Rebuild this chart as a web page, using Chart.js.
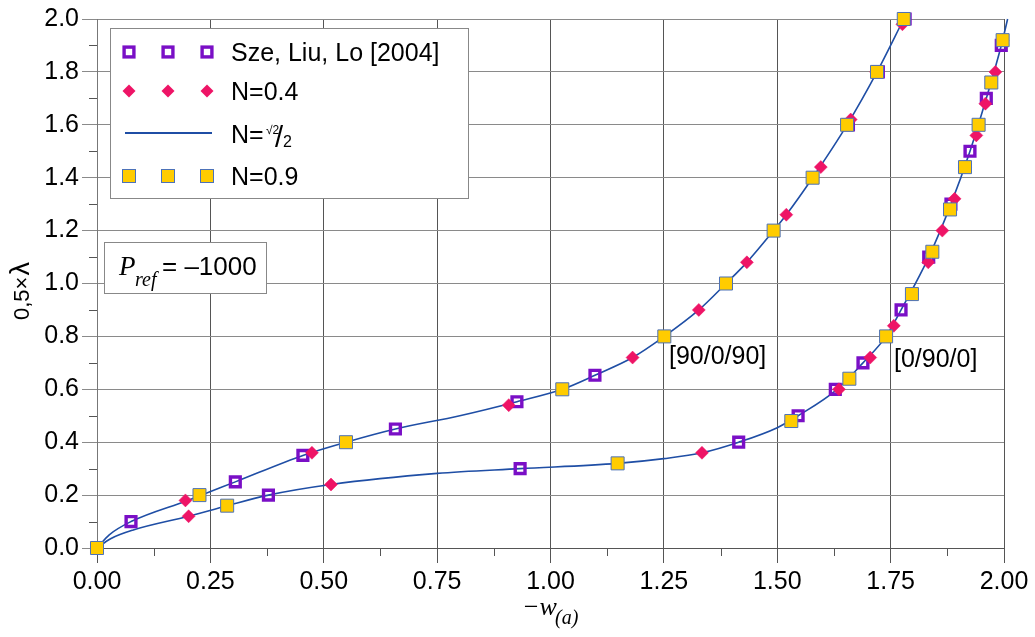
<!DOCTYPE html>
<html>
<head>
<meta charset="utf-8">
<script src="https://cdn.jsdelivr.net/npm/chart.js@4.4.0/dist/chart.umd.min.js"></script>
<style>
  html, body { margin: 0; padding: 0; background: #fff; }
  #wrap { width: 1035px; height: 637px; position: relative; }
</style>
</head>
<body>
<div id="wrap"><canvas id="chart" width="1035" height="637"></canvas></div>
<script>
// 축 눈금 라벨
const xTickLabels = ['0.00', '0.25', '0.50', '0.75', '1.00', '1.25', '1.50', '1.75', '2.00'];
const yTickLabels = ['0.0', '0.2', '0.4', '0.6', '0.8', '1.0', '1.2', '1.4', '1.6', '1.8', '2.0'];

// Sze, Liu, Lo [2004] - [90/0/90]
const szeA_w = [0.075, 0.305, 0.454, 0.658, 0.926, 1.098, 1.657, 1.723, 1.782];
const szeA_l = [0.10, 0.25, 0.35, 0.45, 0.553, 0.653, 1.60, 1.80, 2.00];
// Sze, Liu, Lo [2004] - [0/90/0]
const szeB_w = [0.378, 0.933, 1.415, 1.546, 1.628, 1.689, 1.773, 1.834, 1.883, 1.925, 1.961, 1.994];
const szeB_l = [0.20, 0.30, 0.40, 0.50, 0.60, 0.70, 0.90, 1.10, 1.30, 1.50, 1.70, 1.90];

// N=0.4
const n04A_w = [0.195, 0.474, 0.908, 1.181, 1.327, 1.433, 1.520, 1.596, 1.662, 1.718, 1.776];
const n04A_l = [0.18, 0.36, 0.54, 0.72, 0.90, 1.08, 1.26, 1.44, 1.62, 1.80, 1.98];
const n04B_w = [0.202, 0.516, 1.334, 1.530, 1.636, 1.705, 1.757, 1.797, 1.833, 1.864, 1.891, 1.914, 1.939, 1.959, 1.981, 1.997];
const n04B_l = [0.12, 0.24, 0.36, 0.48, 0.60, 0.72, 0.84, 0.96, 1.08, 1.20, 1.32, 1.44, 1.56, 1.68, 1.80, 1.92];

// N=0.9
const n09A_w = [0.0, 0.226, 0.549, 1.026, 1.251, 1.387, 1.492, 1.578, 1.654, 1.720, 1.779];
const n09A_l = [0.0, 0.20, 0.40, 0.60, 0.80, 1.00, 1.20, 1.40, 1.60, 1.80, 2.00];
const n09B_w = [0.287, 1.148, 1.531, 1.659, 1.740, 1.797, 1.842, 1.881, 1.914, 1.944, 1.972, 1.997];
const n09B_l = [0.16, 0.32, 0.48, 0.64, 0.80, 0.96, 1.12, 1.28, 1.44, 1.60, 1.76, 1.92];

// N=√2/2 곡선
const lineA_w = [0, 0.027, 0.075, 0.20, 0.305, 0.454, 0.549, 0.658, 0.80, 0.926, 1.026, 1.098, 1.181, 1.251, 1.327, 1.387, 1.433, 1.492, 1.52, 1.578, 1.654, 1.72, 1.779];
const lineA_l = [0, 0.05, 0.10, 0.18, 0.25, 0.35, 0.40, 0.45, 0.50, 0.553, 0.60, 0.653, 0.72, 0.80, 0.90, 1.00, 1.08, 1.20, 1.26, 1.40, 1.60, 1.80, 2.00];
const lineB_w = [0, 0.03, 0.08, 0.202, 0.287, 0.378, 0.516, 0.75, 0.933, 1.148, 1.25, 1.334, 1.415, 1.50, 1.546, 1.632, 1.689, 1.74, 1.773, 1.834, 1.883, 1.925, 1.961, 1.994, 2.008];
const lineB_l = [0, 0.035, 0.068, 0.12, 0.16, 0.20, 0.24, 0.282, 0.30, 0.32, 0.338, 0.36, 0.40, 0.455, 0.50, 0.60, 0.70, 0.80, 0.90, 1.10, 1.30, 1.50, 1.70, 1.90, 2.00];

const toPoints = (ws, ls) => ws.map((w, i) => ({ x: w, y: ls[i] }));

const PURPLE = '#7a0fc6';
const PINK = '#ee1466';
const YELLOW = '#ffcc00';
const YELLOW_EDGE = '#4d72b8';
const LINE = '#1f4ea5';
const SANS = '"Liberation Sans", Arial, sans-serif';
const SERIF = '"Liberation Serif", "Times New Roman", serif';

// 보조 눈금, 범례, 주석 그리기
const decorPlugin = {
    id: 'decor',
    afterDraw(chart) {
        const ctx = chart.ctx;
        const xs = chart.scales.x;
        const ys = chart.scales.y;
        const area = chart.chartArea;
        ctx.save();

        // 보조 눈금
        ctx.strokeStyle = '#555';
        ctx.lineWidth = 1;
        ctx.beginPath();
        for (let v = 0.1; v < 2; v += 0.2) {
            const py = Math.round(ys.getPixelForValue(v)) + 0.5;
            ctx.moveTo(area.left - 8, py);
            ctx.lineTo(area.left, py);
        }
        for (let v = 0.125; v < 2; v += 0.25) {
            const px = Math.round(xs.getPixelForValue(v)) + 0.5;
            ctx.moveTo(px, area.bottom);
            ctx.lineTo(px, area.bottom + 8);
        }
        ctx.stroke();

        // 범례 상자
        ctx.fillStyle = '#fff';
        ctx.fillRect(110, 28, 358, 170);
        ctx.strokeStyle = '#888';
        ctx.strokeRect(110.5, 28.5, 358, 170);

        const mx = [129, 168, 207];
        mx.forEach(x => drawSze(ctx, x, 52));
        mx.forEach(x => drawDiamond(ctx, x, 91));
        mx.forEach(x => drawYellow(ctx, x, 176));
        ctx.strokeStyle = LINE;
        ctx.lineWidth = 1.8;
        ctx.beginPath();
        ctx.moveTo(125, 133);
        ctx.lineTo(212, 133);
        ctx.stroke();

        ctx.fillStyle = '#000';
        ctx.textBaseline = 'alphabetic';
        ctx.textAlign = 'left';
        ctx.font = '25px ' + SANS;
        ctx.fillText('Sze, Liu, Lo [2004]', 231, 61);
        ctx.fillText('N=0.4', 231, 100);
        ctx.fillText('N=', 231, 143);
        ctx.fillText('N=0.9', 231, 185);
        ctx.font = '12px ' + SANS;
        ctx.fillText('\u221A2', 266, 134);
        ctx.font = '29px ' + SANS;
        ctx.fillText('/', 275, 147);
        ctx.font = '16px ' + SANS;
        ctx.fillText('2', 283, 147);

        // P_ref 상자
        ctx.fillStyle = '#fff';
        ctx.fillRect(104, 242, 162, 51);
        ctx.strokeStyle = '#888';
        ctx.lineWidth = 1;
        ctx.strokeRect(104.5, 242.5, 162, 51);
        ctx.fillStyle = '#000';
        ctx.font = 'italic 27px ' + SERIF;
        ctx.fillText('P', 119, 275);
        ctx.font = 'italic 20px ' + SERIF;
        ctx.fillText('ref', 135, 286);
        ctx.font = '26px ' + SANS;
        ctx.fillText('= \u20131000', 162, 275);

        // 곡선 주석
        ctx.font = '25px ' + SANS;
        ctx.fillText('[90/0/90]', 669, 364);
        ctx.fillText('[0/90/0]', 894, 367);

        // x축 제목
        ctx.font = 'italic 26px ' + SERIF;
        ctx.fillText('\u2212w', 522, 615);
        ctx.font = 'italic 20px ' + SERIF;
        ctx.fillText('(a)', 555, 624);

        // y축 제목
        ctx.save();
        ctx.translate(29, 320);
        ctx.rotate(-Math.PI / 2);
        ctx.textAlign = 'left';
        ctx.font = '22px ' + SANS;
        const head = '0,5\u00D7';
        ctx.fillText(head, 0, 0);
        const hw = ctx.measureText(head).width;
        ctx.font = '27px ' + SANS;
        ctx.fillText('\u03BB', hw + 1, 0);
        ctx.restore();

        ctx.restore();
    }
};

function drawSze(ctx, x, y) {
    ctx.strokeStyle = PURPLE;
    ctx.lineWidth = 3.4;
    ctx.strokeRect(x - 4.9, y - 4.9, 9.8, 9.8);
}

function drawDiamond(ctx, x, y) {
    ctx.fillStyle = PINK;
    ctx.beginPath();
    ctx.moveTo(x - 6.5, y);
    ctx.lineTo(x, y - 6.5);
    ctx.lineTo(x + 6.5, y);
    ctx.lineTo(x, y + 6.5);
    ctx.closePath();
    ctx.fill();
}

function drawYellow(ctx, x, y) {
    ctx.fillStyle = YELLOW;
    ctx.fillRect(x - 6.5, y - 6.5, 13, 13);
    ctx.strokeStyle = YELLOW_EDGE;
    ctx.lineWidth = 1;
    ctx.strokeRect(x - 6.5, y - 6.5, 13, 13);
}

const lineStyle = {
    showLine: true,
    borderColor: LINE,
    borderWidth: 1.6,
    pointRadius: 0,
    cubicInterpolationMode: 'monotone',
    clip: false,
    order: 4
};

new Chart(document.getElementById('chart'), {
    type: 'scatter',
    data: {
        datasets: [
            { label: 'N=0.9', data: toPoints(n09A_w, n09A_l).concat(toPoints(n09B_w, n09B_l)), pointStyle: 'rect', pointRadius: 9.2, backgroundColor: YELLOW, borderColor: YELLOW_EDGE, borderWidth: 1, clip: false, order: 1 },
            { label: 'N=0.4', data: toPoints(n04A_w, n04A_l).concat(toPoints(n04B_w, n04B_l)), pointStyle: 'rectRot', pointRadius: 6.5, backgroundColor: PINK, borderColor: PINK, borderWidth: 0.5, clip: false, order: 2 },
            { label: 'Sze, Liu, Lo [2004]', data: toPoints(szeA_w, szeA_l).concat(toPoints(szeB_w, szeB_l)), pointStyle: 'rect', pointRadius: 6.9, backgroundColor: 'rgba(255,255,255,0)', borderColor: PURPLE, borderWidth: 3.4, clip: false, order: 3 },
            Object.assign({ label: 'N=\u221A2/2 A', data: toPoints(lineA_w, lineA_l) }, lineStyle),
            Object.assign({ label: 'N=\u221A2/2 B', data: toPoints(lineB_w, lineB_l) }, lineStyle)
        ]
    },
    options: {
        responsive: false,
        animation: false,
        layout: { padding: { top: 19, right: 31, left: 0, bottom: 0 } },
        plugins: {
            legend: { display: false },
            tooltip: { enabled: false }
        },
        scales: {
            x: {
                type: 'linear',
                min: 0,
                max: 2,
                afterFit: s => { s.height = 89; },
                ticks: {
                    stepSize: 0.25,
                    padding: 4,
                    maxRotation: 0,
                    autoSkip: false,
                    color: '#000',
                    font: { family: SANS, size: 25 },
                    callback: (v, i) => xTickLabels[i]
                },
                grid: { color: '#555', lineWidth: 1, tickLength: 15 },
                border: { color: '#555' }
            },
            y: {
                min: 0,
                max: 2,
                afterFit: s => { s.width = 97; },
                ticks: {
                    stepSize: 0.2,
                    padding: 3,
                    autoSkip: false,
                    color: '#000',
                    font: { family: SANS, size: 25 },
                    callback: (v, i) => yTickLabels[i]
                },
                grid: { color: '#8a8a8a', lineWidth: 1, tickLength: 15 },
                border: { color: '#777' }
            }
        }
    },
    plugins: [decorPlugin]
});
</script>
</body>
</html>
